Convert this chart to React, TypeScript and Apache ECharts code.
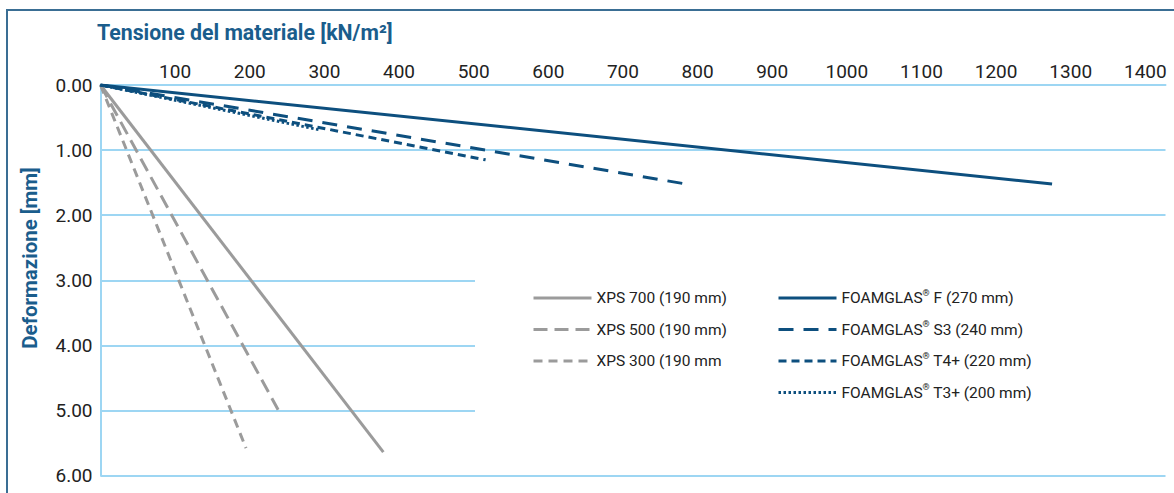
import React, { useEffect, useRef } from "react";
import * as echarts from "echarts";

// ---- data ----
const seriesNames = [
  "XPS 700 (190 mm)",
  "XPS 500 (190 mm)",
  "XPS 300 (190 mm",
  "FOAMGLAS® F (270 mm)",
  "FOAMGLAS® S3 (240 mm)",
  "FOAMGLAS® T4+ (220 mm)",
  "FOAMGLAS® T3+ (200 mm)",
];
// end point of each (straight) curve, starting at the origin
const stressEnd = [379, 238, 195, 1275, 784, 516, 294]; // kN/m²
const deformEnd = [5.64, 4.99, 5.58, 1.52, 1.52, 1.15, 0.69]; // mm
const xTickMax = 1400;
const yTicks = [0, 1, 2, 3, 4, 5, 6];

const GRAY = "#9b9b9b";
const BLUE = "#0d4f7e";
const TITLE = "#1a5d8c";
const GRID = "#9dd6f3";
const TEXT = "#222222";
const FONT = "Roboto, 'Noto Sans', sans-serif";

const seriesColor = [GRAY, GRAY, GRAY, BLUE, BLUE, BLUE, BLUE];
const seriesDash: (string | number[])[] = [
  "solid",
  [14, 7],
  [9, 6],
  "solid",
  [15, 10],
  [8, 5],
  [2.5, 2.5],
];

export default function App() {
  const ref = useRef<HTMLDivElement>(null);
  useEffect(() => {
    if (!ref.current) return;
    const chart = echarts.init(ref.current, undefined, { renderer: "svg" });
    const series = seriesNames.map((name, i) => ({
      name,
      type: "line",
      data: [
        [0, 0],
        [stressEnd[i], deformEnd[i]],
      ],
      symbol: "none",
      silent: true,
      z: 2,
      lineStyle: { color: seriesColor[i], width: 3, type: seriesDash[i], cap: "butt" },
      itemStyle: { color: seriesColor[i] },
    }));
    const legendBase = {
      orient: "vertical",
      itemWidth: 58,
      itemHeight: 14,
      itemGap: 11.5,
      padding: 0,
      selectedMode: false,
      lineStyle: { width: 3 },
      itemStyle: { opacity: 0 },
      formatter: (name: string) => name.replace("®", "{sup|®}"),
      textStyle: {
        fontFamily: FONT,
        fontSize: 15.5,
        color: TEXT,
        lineHeight: 20,
        rich: { sup: { fontFamily: FONT, fontSize: 9, color: TEXT, verticalAlign: "top", lineHeight: 20 } },
      },
    };
    chart.setOption({
      animation: false,
      title: {
        text: "Tensione del materiale [kN/m²]",
        left: 97,
        top: 22,
        padding: 0,
        textStyle: { fontFamily: FONT, fontSize: 21.3, fontWeight: "bold", color: TITLE },
      },
      grid: { left: 100.5, top: 85, right: 8.5, bottom: 17.5, containLabel: false },
      xAxis: {
        type: "value",
        position: "top",
        min: 0,
        max: 1427,
        interval: 100,
        axisLine: { show: true, lineStyle: { color: GRID, width: 2 } },
        axisTick: { show: false },
        splitLine: { show: false },
        axisLabel: {
          margin: 4,
          fontFamily: FONT,
          fontSize: 19,
          color: TEXT,
          formatter: (v: number) => (v > 0 && v <= xTickMax && v % 100 === 0 ? String(v) : ""),
        },
      },
      yAxis: {
        type: "value",
        inverse: true,
        min: yTicks[0],
        max: yTicks[yTicks.length - 1],
        interval: 1,
        axisLine: { show: true, lineStyle: { color: GRID, width: 2 } },
        axisTick: { show: false },
        splitLine: { show: true, lineStyle: { color: GRID, width: 2 } },
        axisLabel: {
          margin: 8,
          fontFamily: FONT,
          fontSize: 19,
          color: TEXT,
          formatter: (v: number) => v.toFixed(2),
        },
      },
      legend: [
        { ...legendBase, data: seriesNames.slice(0, 3), left: 532, top: 288 },
        { ...legendBase, data: seriesNames.slice(3), left: 777, top: 288 },
      ],
      graphic: [
        {
          type: "rect",
          z: 3,
          silent: true,
          shape: { x: 475, y: 228, width: 700, height: 214 },
          style: { fill: "#ffffff" },
        },
        {
          type: "polyline",
          z: 10,
          silent: true,
          shape: { points: [[7, 493], [7, 10], [1174, 10]] },
          style: { stroke: "#3a6e94", lineWidth: 2, fill: null },
        },
        {
          type: "text",
          z: 10,
          x: 30,
          y: 258,
          rotation: Math.PI / 2,
          silent: true,
          style: {
            text: "Deformazione [mm]",
            fontFamily: FONT,
            fontSize: 20.5,
            fontWeight: "bold",
            fill: TITLE,
            align: "center",
            verticalAlign: "middle",
          },
        },
      ],
      series,
    });
    return () => chart.dispose();
  }, []);
  return (
    <div
      ref={ref}
      style={{ position: "fixed", left: 0, top: 0, width: 1174, height: 493, background: "#fff" }}
    />
  );
}
